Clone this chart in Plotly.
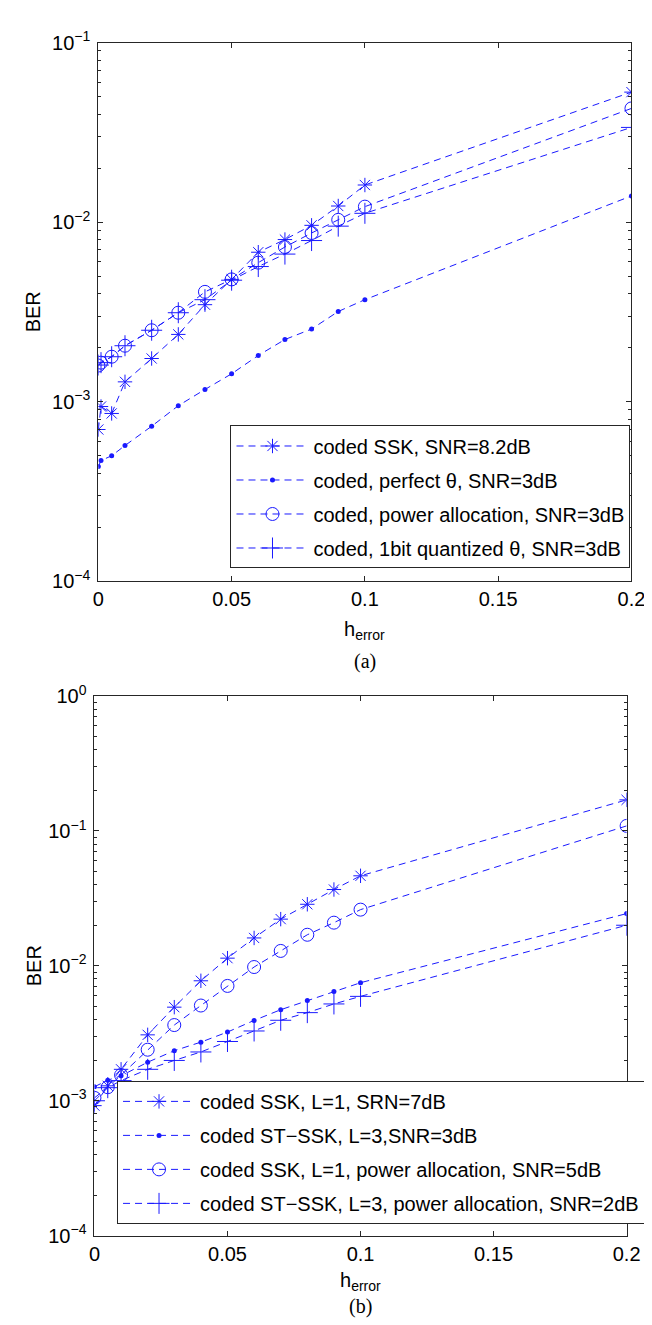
import plotly.graph_objects as go

# ---------------- data (a) ----------------
x_a = [0, 0.001, 0.005, 0.01, 0.02, 0.03, 0.04, 0.05, 0.06, 0.07, 0.08, 0.09, 0.1, 0.2]
ssk_82 = [7.0e-4, 9.4e-4, 8.6e-4, 1.29e-3, 1.74e-3, 2.37e-3, 3.47e-3, 4.8e-3, 6.8e-3, 8.0e-3, 9.6e-3, 1.23e-2, 1.61e-2, 5.3e-2]
perfect_3 = [4.35e-4, 4.7e-4, 5.0e-4, 5.7e-4, 7.3e-4, 9.5e-4, 1.17e-3, 1.43e-3, 1.81e-3, 2.22e-3, 2.54e-3, 3.18e-3, 3.7e-3, 1.4e-2]
power_3 = [1.59e-3, 1.65e-3, 1.78e-3, 2.05e-3, 2.5e-3, 3.13e-3, 4.09e-3, 4.8e-3, 5.95e-3, 7.27e-3, 8.7e-3, 1.03e-2, 1.22e-2, 4.3e-2]
quant_3 = [1.6e-3, 1.65e-3, 1.78e-3, 2.05e-3, 2.5e-3, 3.13e-3, 3.7e-3, 4.75e-3, 5.66e-3, 6.64e-3, 7.9e-3, 9.5e-3, 1.12e-2, 3.37e-2]
names_a = ["coded SSK, SNR=8.2dB", "coded, perfect θ, SNR=3dB",
           "coded, power allocation, SNR=3dB", "coded, 1bit quantized θ, SNR=3dB"]

# ---------------- data (b) ----------------
x_b = [0, 0.005, 0.01, 0.02, 0.03, 0.04, 0.05, 0.06, 0.07, 0.08, 0.09, 0.1, 0.2]
ssk_7 = [9.2e-4, 1.29e-3, 1.71e-3, 3.08e-3, 4.94e-3, 7.75e-3, 1.14e-2, 1.61e-2, 2.22e-2, 2.86e-2, 3.68e-2, 4.65e-2, 1.7e-1]
stssk_3 = [1.27e-3, 1.42e-3, 1.53e-3, 1.93e-3, 2.35e-3, 2.72e-3, 3.23e-3, 3.94e-3, 4.73e-3, 5.53e-3, 6.45e-3, 7.5e-3, 2.44e-2]
ssk_pa_5 = [1.05e-3, 1.26e-3, 1.55e-3, 2.39e-3, 3.64e-3, 5.08e-3, 7.1e-3, 9.8e-3, 1.29e-2, 1.7e-2, 2.09e-2, 2.61e-2, 1.09e-1]
stssk_pa_2 = [1.0e-3, 1.25e-3, 1.41e-3, 1.71e-3, 1.99e-3, 2.3e-3, 2.75e-3, 3.29e-3, 3.95e-3, 4.5e-3, 5.22e-3, 5.94e-3, 2.0e-2]
names_b = ["coded SSK, L=1, SRN=7dB", "coded ST−SSK, L=3,SNR=3dB",
           "coded SSK, L=1, power allocation, SNR=5dB", "coded ST−SSK, L=3, power allocation, SNR=2dB"]

x_ticks = [0, 0.05, 0.1, 0.15, 0.2]
x_ticktext = ["0", "0.05", "0.1", "0.15", "0.2"]

W, H = 652, 1325
BLUE = "#1a1aff"
AX = "#262626"
FONT = "Liberation Sans, Arial, sans-serif"
FS = 20

markers = [
    dict(symbol="asterisk-open", size=12, line=dict(color=BLUE, width=1)),
    dict(symbol="circle", size=5, line=dict(width=0)),
    dict(symbol="circle-open", size=13, line=dict(color=BLUE, width=1)),
    dict(symbol="cross-thin-open", size=15, line=dict(color=BLUE, width=1)),
]

fig = go.Figure()
for i, (ys, nm, mk) in enumerate(zip([ssk_82, perfect_3, power_3, quant_3], names_a, markers)):
    fig.add_trace(go.Scatter(x=x_a, y=ys, name=nm, mode="lines+markers",
                             line=dict(color=BLUE, width=1, dash="7px,5px"),
                             marker=dict(color=BLUE, **mk), legendgroup=f"a{i}",
                             xaxis="x", yaxis="y", legend="legend"))
for i, (ys, nm, mk) in enumerate(zip([ssk_7, stssk_3, ssk_pa_5, stssk_pa_2], names_b, markers)):
    fig.add_trace(go.Scatter(x=x_b, y=ys, name=nm, mode="lines+markers",
                             line=dict(color=BLUE, width=1, dash="7px,5px"),
                             marker=dict(color=BLUE, **mk), legendgroup=f"b{i}",
                             xaxis="x2", yaxis="y2", legend="legend2"))


def px_x(p):
    return p / W


def px_y(p):
    return 1 - p / H


# plot rectangles (pixels)
A = dict(l=87, r=637, t=21, b=570)
B = dict(l=83, r=632, t=687, b=1237)


def minor_vals(lo, hi):
    vals = []
    for e in range(lo, hi):
        for m in range(2, 10):
            vals.append(m * 10 ** e)
    return vals


axis_common = dict(showline=True, linecolor=AX, linewidth=1, mirror="ticks",
                   ticks="inside", tickcolor=AX, tickwidth=1, ticklen=5,
                   showgrid=False, zeroline=False,
                   tickfont=dict(family=FONT, size=FS, color="black"))

leg_common = dict(xanchor="right", yanchor="bottom", bgcolor="white",
                  bordercolor=AX, borderwidth=1,
                  font=dict(family=FONT, size=FS, color="black"),
                  itemwidth=72, tracegroupgap=5)

fig.update_layout(
    width=W, height=H, margin=dict(l=0, r=0, t=0, b=0),
    paper_bgcolor="white", plot_bgcolor="white",
    font=dict(family=FONT, size=FS, color="black"),
    xaxis=dict(domain=[px_x(A["l"]), px_x(A["r"])], anchor="y", range=[0, 0.2],
               tickvals=x_ticks, ticktext=x_ticktext, **axis_common),
    yaxis=dict(domain=[px_y(A["b"]), px_y(A["t"])], anchor="x", type="log", range=[-4, -1],
               tickvals=[1e-4, 1e-3, 1e-2, 1e-1],
               ticktext=["10<sup>−4</sup>", "10<sup>−3</sup>", "10<sup>−2</sup>", "10<sup>−1</sup>"],
               minor=dict(tickvals=minor_vals(-4, -1), ticks="inside", ticklen=3,
                          tickcolor=AX, showgrid=False),
               ticklabelstandoff=3, **axis_common),
    xaxis2=dict(domain=[px_x(B["l"]), px_x(B["r"])], anchor="y2", range=[0, 0.2],
                tickvals=x_ticks, ticktext=x_ticktext, **axis_common),
    yaxis2=dict(domain=[px_y(B["b"]), px_y(B["t"])], anchor="x2", type="log", range=[-4, 0],
                tickvals=[1e-4, 1e-3, 1e-2, 1e-1, 1],
                ticktext=["10<sup>−4</sup>", "10<sup>−3</sup>", "10<sup>−2</sup>", "10<sup>−1</sup>", "10<sup>0</sup>"],
                minor=dict(tickvals=minor_vals(-4, 0), ticks="inside", ticklen=3,
                           tickcolor=AX, showgrid=False),
                ticklabelstandoff=3, **axis_common),
    legend=dict(x=px_x(636), y=px_y(557), **leg_common),
    legend2=dict(x=px_x(651), y=px_y(1225), **leg_common),
    showlegend=True,
)

ann = []
for rect, tag, d1, d2 in [(A, "(a)", 50, 82), (B, "(b)", 47, 72)]:
    cx = (rect["l"] + rect["r"]) / 2
    ann.append(dict(text="h<sub>error</sub>", x=px_x(cx), y=px_y(rect["b"] + d1),
                    xref="paper", yref="paper", showarrow=False,
                    xanchor="center", yanchor="middle",
                    font=dict(family=FONT, size=FS, color="black")))
    ann.append(dict(text=tag, x=px_x(cx), y=px_y(rect["b"] + d2),
                    xref="paper", yref="paper", showarrow=False,
                    xanchor="center", yanchor="middle",
                    font=dict(family="Liberation Serif, Times New Roman, serif", size=20, color="black")))
    ann.append(dict(text="BER", x=px_x(20), y=px_y((rect["t"] + rect["b"]) / 2),
                    xref="paper", yref="paper", showarrow=False, textangle=-90,
                    xanchor="center", yanchor="middle",
                    font=dict(family=FONT, size=FS, color="black")))
fig.update_layout(annotations=ann)

fig.write_html("out.html")
